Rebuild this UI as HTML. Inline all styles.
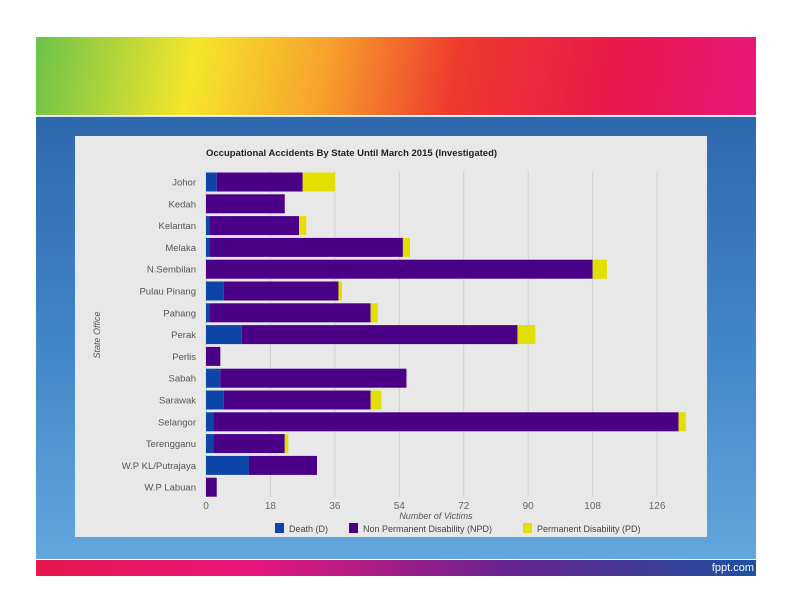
<!DOCTYPE html>
<html><head><meta charset="utf-8"><style>
body{margin:0;width:792px;height:612px;background:#fff;position:relative;overflow:hidden;font-family:"Liberation Sans",sans-serif}
.abs{position:absolute}
</style></head><body>
<div class="abs" style="left:36px;top:37px;width:720px;height:78px;background:linear-gradient(100deg,#6cc24a 0%,#f5e62a 22%,#f7a22c 40%,#ee3a2e 58%,#e8194a 80%,#e8177c 100%)"></div>
<div class="abs" style="left:36px;top:116px;width:720px;height:442px;background:linear-gradient(180deg,#2e68ad 0%,#3f86c8 50%,#62a6de 100%);border-top:1px solid #dce6f0"></div>
<div class="abs" style="left:36px;top:560px;width:720px;height:16px;background:linear-gradient(90deg,#e8174f 0%,#e8177c 30%,#6a2390 65%,#1e4f9e 100%)"></div>
<div class="abs" style="right:38px;top:560px;color:#fff;font-size:11px;line-height:16px">fppt.com</div>
<svg class="abs" style="left:0;top:0" width="792" height="612">
<rect x="75" y="136" width="632" height="401" fill="#e8e8e8"/>
<text x="206" y="156" font-size="9.5" font-weight="bold" fill="#222">Occupational Accidents By State Until March 2015 (Investigated)</text>
<g id="grid"></g><g id="bars"></g><g id="labels"></g>
<text x="436" y="519" text-anchor="middle" font-size="9" font-style="italic" fill="#555">Number of Victims</text>
<text transform="translate(100,335) rotate(-90)" text-anchor="middle" font-size="9" font-style="italic" fill="#555">State Office</text>
<g font-size="9" fill="#444">
<rect x="275" y="523" width="9" height="10" fill="#0d46a8"/><text x="289" y="532">Death (D)</text>
<rect x="349" y="523" width="9" height="10" fill="#4b0088"/><text x="363" y="532">Non Permanent Disability (NPD)</text>
<rect x="523" y="523" width="9" height="10" fill="#e3e000"/><text x="537" y="532">Permanent Disability (PD)</text>
</g>
</svg>
<script>
const states=["Johor","Kedah","Kelantan","Melaka","N.Sembilan","Pulau Pinang","Pahang","Perak","Perlis","Sabah","Sarawak","Selangor","Terengganu","W.P KL/Putrajaya","W.P Labuan"];
const death=[3,0,1,1,0,5,1,10,0,4,5,2,2,12,0];
const npd=[24,22,25,54,108,32,45,77,4,52,41,130,20,19,3];
const pd=[9,0,2,2,4,1,2,5,0,0,3,2,1,0,0];
const ticks=[0,18,36,54,72,90,108,126];
const NS="http://www.w3.org/2000/svg";
const x=v=>206+v*3.58;
const y=i=>182+i*21.8;
const grid=document.getElementById('grid'),bars=document.getElementById('bars'),labels=document.getElementById('labels');
function mk(tag,at,p){const e=document.createElementNS(NS,tag);for(const k in at)e.setAttribute(k,at[k]);p.appendChild(e);return e;}
ticks.forEach(t=>{
 const l=mk('line',{x1:x(t),x2:x(t),y1:171,y2:497,stroke:'#d0d0d0','stroke-width':1},grid);
 
 
 const tx=mk('text',{x:x(t),y:509,'text-anchor':'middle','font-size':10,fill:'#666'},labels);
 tx.textContent=t;
 
 
});
const colors=['#0d46a8','#4b0088','#e3e000'];
states.forEach((s,i)=>{
 const tx=mk('text',{x:196,y:y(i)+3.5,'text-anchor':'end','font-size':9.5,fill:'#555'},labels);
 tx.textContent=s;
 
 
 let acc=0;
 [death[i],npd[i],pd[i]].forEach((v,k)=>{
  if(v>0){
   const r=mk('rect',{x:x(acc),y:y(i)-9.5,width:x(acc+v)-x(acc),height:19,fill:colors[k]},bars);
   
   
  }
  acc+=v;
 });
});
</script>
</body></html>
